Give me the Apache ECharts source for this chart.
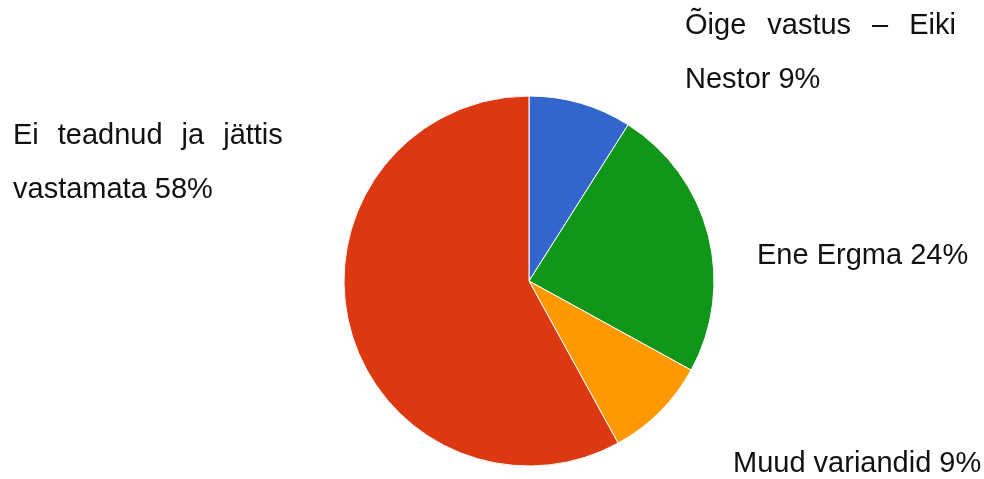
<!DOCTYPE html>
<html>
<head>
<meta charset="utf-8">
<script src="https://cdn.jsdelivr.net/npm/echarts@6/dist/echarts.min.js"></script>
<style>html,body{margin:0;padding:0;background:#fff}#c{width:984px;height:479px}</style>
</head>
<body>
<div id="c"></div>
<script>
// Data
const categories = ['Õige vastus – Eiki Nestor', 'Ene Ergma', 'Muud variandid', 'Ei teadnud ja jättis vastamata'];
const values = [9, 24, 9, 58];
const colors = ['#3366cc', '#109618', '#ff9900', '#dc3912'];
// label text lines (justified first lines use gap tokens)
const labelTexts = [
  'Õige{g1| }vastus{g1| }–{g1| }Eiki\nNestor 9%',
  'Ene Ergma 24%',
  'Muud variandid 9%',
  'Ei{g2| }teadnud{g2| }ja{g2| }jättis\nvastamata 58%'
];

const labelPos = [[685, -1], [757, 229], [733, 437], [13, 109]];
const FS = 29, LH = 54;
const font = '"Liberation Sans", Arial, sans-serif';

const chart = echarts.init(document.getElementById('c'));
chart.setOption({
  animation: false,
  series: [{
    type: 'pie',
    center: [529, 281],
    radius: 185,
    startAngle: 90,
    clockwise: true,
    itemStyle: { borderColor: '#fff', borderWidth: 1 },
    data: categories.map((n, i) => ({ name: n, value: values[i], itemStyle: { color: colors[i] } })),
    label: {
      show: true,
      formatter: p => labelTexts[p.dataIndex],
      color: '#111',
      fontSize: FS,
      fontFamily: font,
      lineHeight: LH,
      rich: {
        g1: { width: 21, fontSize: FS, fontFamily: font, lineHeight: LH },
        g2: { width: 19, fontSize: FS, fontFamily: font, lineHeight: LH }
      }
    },
    labelLine: { show: false },
    labelLayout: p => ({ x: labelPos[p.dataIndex][0], y: labelPos[p.dataIndex][1], align: 'left', verticalAlign: 'top', hideOverlap: false, moveOverlap: null }),
    emphasis: { disabled: true }
  }]
});
</script>
</body>
</html>
